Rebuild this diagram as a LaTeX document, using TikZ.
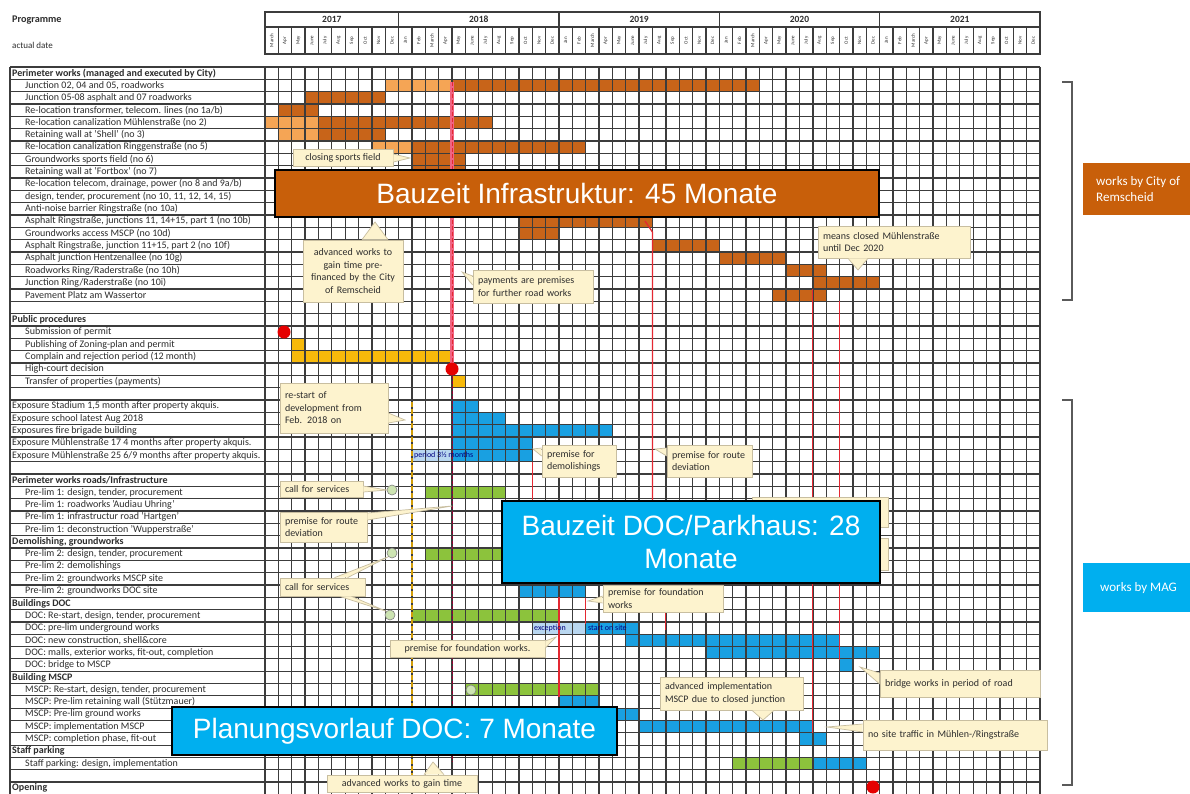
\documentclass[tikz,border=0pt]{standalone}
\usepackage{fontspec}
\setmainfont{Carlito}
\newfontfamily\arialf{Liberation Sans}
\usetikzlibrary{calc}
\definecolor{dorange}{RGB}{200,100,25}
\definecolor{lorange}{RGB}{245,165,85}
\definecolor{goldc}{RGB}{247,185,10}
\definecolor{bblue}{RGB}{25,160,225}
\definecolor{lblue}{RGB}{185,215,240}
\definecolor{ggreen}{RGB}{140,195,60}
\definecolor{bigorange}{RGB}{200,95,10}
\definecolor{bigblue}{RGB}{0,175,239}
\definecolor{callfill}{RGB}{253,243,206}
\definecolor{callline}{RGB}{200,190,160}
\definecolor{gridc}{RGB}{60,60,60}
\definecolor{redl}{RGB}{228,40,50}
\definecolor{pinkl}{RGB}{240,100,130}
\definecolor{txtc}{RGB}{45,45,45}
\definecolor{circfill}{RGB}{205,228,178}
\definecolor{brackc}{RGB}{90,90,90}
\newcommand{\colx}[1]{(265+(#1)*13.362)}
\newcommand{\rowtop}[1]{(67+((#1)-1)*12.33)}
\newcommand{\rowmid}[1]{(67+((#1)-0.5)*12.33)}
\newcommand{\gb}[4]{\fill[#4] ({\colx{#2}},{\rowtop{#1}}) rectangle ({\colx{#3}},{\rowtop{#1}+12.33});}
\newcommand{\lab}[3]{\node[labtxt] (l#1) at (#2,{\rowmid{#1}}) {#3};}
\newcommand{\monthname}[1]{\ifcase#1 Jan\or Feb\or March\or Apr\or May\or June\or July\or Aug\or Sep\or Oct\or Nov\or Dec\fi}
\tikzset{
  gridline/.style={draw=gridc,line width=1.3pt},
  labtxt/.style={anchor=west,inner sep=0pt,text=txtc,font=\fontsize{10}{11}\selectfont},
  monthtxt/.style={rotate=90,inner sep=0pt,text=txtc,font=\fontsize{5}{6}\selectfont},
  yeartxt/.style={inner sep=0pt,text=txtc,font=\bfseries\fontsize{9.5}{10}\selectfont},
  callbox/.style={draw=callline,fill=callfill,line width=0.7pt,inner xsep=5pt,inner ysep=1pt,
    text=txtc,font=\fontsize{10}{12.5}\selectfont},
  ptrfill/.style={fill=callfill},
  ptrline/.style={draw=callline,line width=0.7pt},
  bigbox/.style={draw=black,line width=1.3pt,inner sep=0pt,text=white,align=center,
    font=\arialf\fontsize{28}{33}\selectfont},
  svccirc/.style={circle,draw=gray,fill=circfill,line width=0.6pt,minimum size=10pt,inner sep=0pt},
  reddot/.style={circle,fill=red!90!black,minimum size=13pt,inner sep=0pt},
  redline/.style={draw=redl,line width=1.3pt},
  smalltag/.style={inner sep=0pt,anchor=west,text=blue!50!black,font=\fontsize{8}{9}\selectfont},
  sidetxt/.style={inner sep=0pt,anchor=west,text=white,align=left,font=\fontsize{13}{16}\selectfont},
  brack/.style={draw=brackc,line width=1.2pt}
}
\begin{document}
\begin{tikzpicture}[x=1pt,y=-1pt]
\useasboundingbox (0,0) rectangle (1190,794);
\fill[white] (0,0) rectangle (1190,794);

% ---------- header ----------
\node[inner sep=0pt,anchor=west,text=txtc,font=\bfseries\fontsize{10.2}{11}\selectfont] (prog) at (12,20) {Programme};
\node[inner sep=0pt,anchor=west,text=txtc,font=\fontsize{9}{10}\selectfont] (adate) at (12,45) {actual date};
\draw[gridline] (265,12) rectangle (1040,54);
\draw[gridline] (265,27) -- (1040,27);
\foreach \c in {1,...,57} \draw[gridline] ({\colx{\c}},27) -- ({\colx{\c}},54);
\foreach \c in {10,22,34,46} \draw[gridline] ({\colx{\c}},12) -- ({\colx{\c}},27);
\node[yeartxt] (y17) at ({\colx{5}},19.5) {2017};
\node[yeartxt] (y18) at ({\colx{16}},19.5) {2018};
\node[yeartxt] (y19) at ({\colx{28}},19.5) {2019};
\node[yeartxt] (y20) at ({\colx{40}},19.5) {2020};
\node[yeartxt] (y21) at ({\colx{52}},19.5) {2021};
\foreach \c in {0,...,57}{
  \pgfmathtruncatemacro{\mi}{mod(\c+2,12)}
  \node[monthtxt] (m\c) at ({\colx{\c}+6.68},40.5) {\monthname{\mi}};
}

% ---------- bars ----------
\gb{2}{9}{14}{lorange}\gb{2}{14}{37}{dorange}
\gb{3}{3}{9}{dorange}
\gb{4}{1}{4}{dorange}
\gb{5}{0}{4}{lorange}\gb{5}{4}{17}{dorange}
\gb{6}{1}{4}{lorange}\gb{6}{4}{9}{dorange}
\gb{7}{8}{11}{lorange}\gb{7}{11}{24}{dorange}
\gb{8}{11}{15}{dorange}
\gb{9}{11}{15}{dorange}
\gb{13}{19}{29}{dorange}
\gb{14}{19}{22}{dorange}
\gb{15}{29}{34}{dorange}
\gb{16}{34}{39}{dorange}
\gb{17}{39}{42}{dorange}
\gb{18}{41}{46}{dorange}
\gb{19}{38}{42}{dorange}
\gb{23}{2}{3}{goldc}
\gb{24}{2}{14}{goldc}
\gb{26}{14}{15}{goldc}
\gb{28}{14}{16}{bblue}
\gb{29}{14}{18}{bblue}
\gb{30}{14}{26}{bblue}
\gb{31}{14}{20}{bblue}
\gb{32}{11}{14}{lblue}\gb{32}{14}{20}{bblue}
\gb{35}{12}{18}{ggreen}
\gb{40}{12}{18}{ggreen}
\gb{43}{19}{24}{bblue}
\gb{45}{11}{22}{ggreen}
\gb{46}{20}{24}{lblue}\gb{46}{24}{28}{bblue}
\gb{47}{27}{43}{bblue}
\gb{48}{33}{46}{bblue}
\gb{49}{43}{44}{bblue}
\gb{51}{15}{25}{ggreen}
\gb{52}{22}{25}{bblue}
\gb{53}{25}{28}{bblue}
\gb{54}{28}{41}{bblue}
\gb{55}{40}{42}{bblue}
\gb{57}{35}{41}{ggreen}\gb{57}{41}{45}{bblue}

% ---------- grid ----------
\foreach \c in {0,...,58} \draw[gridline] ({\colx{\c}},67) -- ({\colx{\c}},795);
\foreach \r in {0,...,59} \draw[gridline] (10,{67+\r*12.33}) -- (1040,{67+\r*12.33});
\draw[gridline] (10,67) -- (10,795);

% ---------- row labels ----------
\lab{1}{12}{\bfseries Perimeter works (managed and executed by City)}
\lab{2}{25}{Junction 02, 04 and 05, roadworks}
\lab{3}{25}{Junction 05-08 asphalt and 07 roadworks}
\lab{4}{25}{Re-location transformer, telecom. lines (no 1a/b)}
\lab{5}{25}{Re-location canalization Mühlenstraße (no 2)}
\lab{6}{25}{Retaining wall at 'Shell' (no 3)}
\lab{7}{25}{Re-location canalization Ringgenstraße (no 5)}
\lab{8}{25}{Groundworks sports field (no 6)}
\lab{9}{25}{Retaining wall at 'Fortbox' (no 7)}
\lab{10}{25}{Re-location telecom, drainage, power (no 8 and 9a/b)}
\lab{11}{25}{design, tender, procurement (no 10, 11, 12, 14, 15)}
\lab{12}{25}{Anti-noise barrier Ringstraße (no 10a)}
\lab{13}{25}{Asphalt Ringstraße, junctions 11, 14+15, part 1 (no 10b)}
\lab{14}{25}{Groundworks access MSCP (no 10d)}
\lab{15}{25}{Asphalt Ringstraße, junction 11+15, part 2 (no 10f)}
\lab{16}{25}{Asphalt junction Hentzenallee (no 10g)}
\lab{17}{25}{Roadworks Ring/Raderstraße (no 10h)}
\lab{18}{25}{Junction Ring/Raderstraße (no 10i)}
\lab{19}{25}{Pavement Platz am Wassertor}
\lab{21}{12}{\bfseries Public procedures}
\lab{22}{25}{Submission of permit}
\lab{23}{25}{Publishing of Zoning-plan and permit}
\lab{24}{25}{Complain and rejection period (12 month)}
\lab{25}{25}{High-court decision}
\lab{26}{25}{Transfer of properties (payments)}
\lab{28}{12}{Exposure Stadium 1,5 month after property akquis.}
\lab{29}{12}{Exposure school latest Aug 2018}
\lab{30}{12}{Exposures fire brigade building}
\lab{31}{12}{Exposure Mühlenstraße 17 4 months after property akquis.}
\lab{32}{12}{Exposure Mühlenstraße 25 6/9 months after property akquis.}
\lab{34}{12}{\bfseries Perimeter works roads/Infrastructure}
\lab{35}{25}{Pre-lim 1: design, tender, procurement}
\lab{36}{25}{Pre-lim 1: roadworks 'Audiau Uhring'}
\lab{37}{25}{Pre-lim 1: infrastructur road 'Hartgen'}
\lab{38}{25}{Pre-lim 1: deconstruction 'Wupperstraße'}
\lab{39}{12}{\bfseries Demolishing, groundworks}
\lab{40}{25}{Pre-lim 2: design, tender, procurement}
\lab{41}{25}{Pre-lim 2: demolishings}
\lab{42}{25}{Pre-lim 2: groundworks MSCP site}
\lab{43}{25}{Pre-lim 2: groundworks DOC site}
\lab{44}{12}{\bfseries Buildings DOC}
\lab{45}{25}{DOC: Re-start, design, tender, procurement}
\lab{46}{25}{DOC: pre-lim underground works}
\lab{47}{25}{DOC: new construction, shell\&core}
\lab{48}{25}{DOC: malls, exterior works, fit-out, completion}
\lab{49}{25}{DOC: bridge to MSCP}
\lab{50}{12}{\bfseries Building MSCP}
\lab{51}{25}{MSCP: Re-start, design, tender, procurement}
\lab{52}{25}{MSCP: Pre-lim retaining wall (Stützmauer)}
\lab{53}{25}{MSCP: Pre-lim ground works}
\lab{54}{25}{MSCP: implementation MSCP}
\lab{55}{25}{MSCP: completion phase, fit-out}
\lab{56}{12}{\bfseries Staff parking}
\lab{57}{25}{Staff parking: design, implementation}
\lab{59}{12}{\bfseries Opening}

% ---------- milestone lines ----------
\draw[draw=pinkl,line width=3.2pt] (452,82) -- (452,364);
\draw[draw=redl,line width=1pt,dash pattern=on 4pt off 2pt] (452,82) -- (452,364);
\draw[draw=purple!80!black,line width=1pt,dash pattern=on 3pt off 2pt] (452,376) -- (452,762);
\draw[draw=goldc!85!black,line width=1.4pt,dash pattern=on 5pt off 2pt] (412,402) -- (412,795);
\draw[redline] (645,221) -- (652.4,232) -- (652.4,501);
\draw[redline] (532.2,462) -- (532.2,501);
\draw[redline] (558.9,597) -- (558.9,697);
\draw[redline] (585.6,598) -- (585.6,624);
\draw[redline] (665.8,612) -- (665.8,630);
\draw[redline] (812.8,289) -- (812.8,733);
\draw[redline] (839.5,301) -- (839.5,660);

% tags in bars
\node[smalltag] (tagp) at (414,{\rowmid{32}}) {period 3½ months};
\node[smalltag] (tage) at (534,{\rowmid{46}}) {exception};
\node[smalltag] (tags) at (588,{\rowmid{46}}) {start on site};

% milestones
\node[reddot] (d1) at (284,332) {};
\node[reddot] (d2) at (452,369) {};
\node[reddot] (d3) at (873,787) {};
\node[svccirc] (s1) at (392,490) {};
\node[svccirc] (s2) at (392,553) {};
\node[svccirc] (s3) at (390,615) {};
\node[svccirc] (s4) at (471,690) {};

% ---------- callouts ----------
\node[callbox,minimum width=100pt,minimum height=17pt] (c1) at (343,158) {closing sports field};
\fill[ptrfill] ($(c1.east)+(0,-4)$) -- (410,158) -- ($(c1.east)+(0,4)$) -- cycle;
\draw[ptrline] ($(c1.east)+(0,-4)$) -- (410,158) -- ($(c1.east)+(0,4)$);

\node[callbox,text width=90pt,align=center,minimum height=62pt] (c2) at (353,271) {advanced works to\\gain time pre-\\financed by the City\\of Remscheid};
\fill[ptrfill] ($(c2.north)+(9,0)$) -- (375,222) -- ($(c2.north)+(35,0)$) -- cycle;
\draw[ptrline] ($(c2.north)+(9,0)$) -- (375,222) -- ($(c2.north)+(35,0)$);

\node[callbox,text width=110pt,align=left,minimum height=33pt] (c3) at (533,286.5) {payments are premises\\for further road works};
\fill[ptrfill] ($(c3.west)+(0,-10.5)$) -- (462,272) -- ($(c3.west)+(0,-1.5)$) -- cycle;
\draw[ptrline] ($(c3.west)+(0,-10.5)$) -- (462,272) -- ($(c3.west)+(0,-1.5)$);

\node[callbox,text width=142pt,align=left,minimum height=32pt] (c4) at (894,242) {means closed Mühlenstraße\\until Dec 2020};
\fill[ptrfill] ($(c4.south)+(-46,0)$) -- (858,270) -- ($(c4.south)+(-26,0)$) -- cycle;
\draw[ptrline] ($(c4.south)+(-46,0)$) -- (858,270) -- ($(c4.south)+(-26,0)$);

\node[callbox,text width=98pt,align=left,minimum height=50pt] (c5) at (334,408) {re-start of\\development from\\Feb. 2018 on};
\fill[ptrfill] ($(c5.east)+(0,5)$) -- (405,420) -- ($(c5.east)+(0,15)$) -- cycle;
\draw[ptrline] ($(c5.east)+(0,5)$) -- (405,420) -- ($(c5.east)+(0,15)$);

\node[callbox,text width=64pt,align=left,minimum height=32pt] (c6) at (579,461) {premise for\\demolishings};
\fill[ptrfill] ($(c6.west)+(0,-13)$) -- (533,449) -- ($(c6.west)+(0,-5)$) -- cycle;
\draw[ptrline] ($(c6.west)+(0,-13)$) -- (533,449) -- ($(c6.west)+(0,-5)$);

\node[callbox,text width=75pt,align=left,minimum height=32pt] (c7) at (709.5,461) {premise for route\\deviation};
\fill[ptrfill] ($(c7.west)+(0,-13)$) -- (655,449) -- ($(c7.west)+(0,-5)$) -- cycle;
\draw[ptrline] ($(c7.west)+(0,-13)$) -- (655,449) -- ($(c7.west)+(0,-5)$);

\node[callbox,text width=73pt,align=left,minimum height=16pt] (c8) at (321.5,489) {call for services};
\fill[ptrfill] ($(c8.east)+(0,-3)$) -- (s1.west) -- ($(c8.east)+(0,3)$) -- cycle;
\draw[ptrline] ($(c8.east)+(0,-3)$) -- (s1.west) -- ($(c8.east)+(0,3)$);

\node[callbox,text width=77pt,align=left,minimum height=30pt] (c9) at (323.5,527) {premise for route\\deviation};
\fill[ptrfill] ($(c9.east)+(0,-14)$) -- (452,506) -- ($(c9.east)+(0,-7)$) -- cycle;
\draw[ptrline] ($(c9.east)+(0,-14)$) -- (452,506) -- ($(c9.east)+(0,-7)$);

\node[callbox,text width=75pt,align=left,minimum height=18pt] (c10) at (322.5,587) {call for services};
\fill[ptrfill] ($(c10.north)+(12,0)$) -- (s2.south west) -- ($(c10.north)+(25,0)$) -- cycle;
\draw[ptrline] ($(c10.north)+(12,0)$) -- (s2.south west) -- ($(c10.north)+(25,0)$);
\fill[ptrfill] ($(c10.south)+(17,0)$) -- (s3.north west) -- ($(c10.south)+(29,0)$) -- cycle;
\draw[ptrline] ($(c10.south)+(17,0)$) -- (s3.north west) -- ($(c10.south)+(29,0)$);

\node[callbox,text width=110pt,align=left,minimum height=27pt] (c11) at (663,598.5) {premise for foundation\\works};
\fill[ptrfill] ($(c11.west)+(0,-2.5)$) -- (588,601) -- ($(c11.west)+(0,4.5)$) -- cycle;
\draw[ptrline] ($(c11.west)+(0,-2.5)$) -- (588,601) -- ($(c11.west)+(0,4.5)$);

\node[callbox,text width=145pt,align=center,minimum height=17pt] (c12) at (467.5,648.5) {premise for foundation works.};
\fill[ptrfill] ($(c12.east)+(0,-7.5)$) -- (556,637) -- ($(c12.east)+(0,-0.5)$) -- cycle;
\draw[ptrline] ($(c12.east)+(0,-7.5)$) -- (556,637) -- ($(c12.east)+(0,-0.5)$);

\node[callbox,minimum width=136pt,minimum height=30pt] (c13) at (820,512) {};
\node[callbox,minimum width=136pt,minimum height=32pt] (c14) at (820,554) {};

\node[callbox,text width=133pt,align=left,minimum height=33pt] (c15) at (731.5,693.5) {advanced implementation\\MSCP due to closed junction};
\fill[ptrfill] ($(c15.south)+(20.5,0)$) -- (763,720) -- ($(c15.south)+(42.5,0)$) -- cycle;
\draw[ptrline] ($(c15.south)+(20.5,0)$) -- (763,720) -- ($(c15.south)+(42.5,0)$);

\node[callbox,text width=150pt,align=left,minimum height=27pt] (c16) at (960,683.5) {bridge works in period of road};
\fill[ptrfill] ($(c16.west)+(0,-10.5)$) -- (860,667) -- ($(c16.west)+(0,0.5)$) -- cycle;
\draw[ptrline] ($(c16.west)+(0,-10.5)$) -- (860,667) -- ($(c16.west)+(0,0.5)$);

\node[callbox,text width=174pt,align=left,minimum height=30pt] (c17) at (955,735) {no site traffic in Mühlen-/Ringstraße};
\fill[ptrfill] ($(c17.west)+(0,-11)$) -- (827,727) -- ($(c17.west)+(0,-3)$) -- cycle;
\draw[ptrline] ($(c17.west)+(0,-11)$) -- (827,727) -- ($(c17.west)+(0,-3)$);

\node[callbox,text width=140pt,align=center,minimum height=17pt] (c18) at (402,783.5) {advanced works to gain time};
\fill[ptrfill] ($(c18.north)+(22,0)$) -- (433,762) -- ($(c18.north)+(42,0)$) -- cycle;
\draw[ptrline] ($(c18.north)+(22,0)$) -- (433,762) -- ($(c18.north)+(42,0)$);

% ---------- big boxes ----------
\node[bigbox,fill=bigorange,minimum width=604pt,minimum height=47pt] (bi) at (577,193.5) {Bauzeit Infrastruktur: 45 Monate};
\node[bigbox,fill=bigblue,minimum width=378pt,minimum height=82pt] (bd) at (691,542) {Bauzeit DOC/Parkhaus: 28\\Monate};
\node[bigbox,fill=bigblue,minimum width=445pt,minimum height=48pt] (bp) at (394.5,731) {Planungsvorlauf DOC: 7 Monate};

% ---------- side brackets ----------
\draw[brack] (1062,82) -- (1072,82) -- (1072,300) -- (1062,300);
\draw[brack] (1062,400) -- (1072,400) -- (1072,785) -- (1062,785);
\fill[bigorange] (1083,163) rectangle (1190,215);
\node[sidetxt] (wc) at (1096,189) {works by City of\\Remscheid};
\fill[bigblue] (1083,563) rectangle (1190,612);
\node[sidetxt] (wm) at (1100,588) {works by MAG};
\end{tikzpicture}
\end{document}
